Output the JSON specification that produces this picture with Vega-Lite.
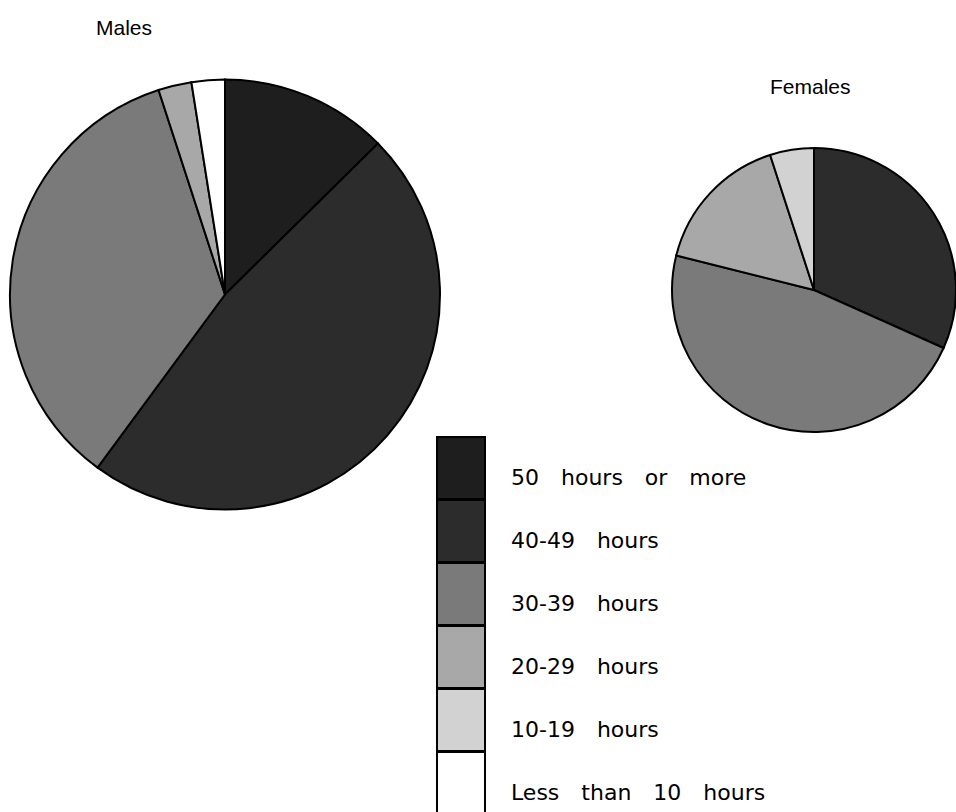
{
  "$schema": "https://vega.github.io/schema/vega-lite/v6.json",
  "padding": 0,
  "background": "white",
  "bounds": "flush",
  "spacing": 222,
  "data": {
    "values": [
      {"sex": "Males", "hours": "50 hours or more", "rank": 1, "percent": 12.6},
      {"sex": "Males", "hours": "40-49 hours", "rank": 2, "percent": 47.5},
      {"sex": "Males", "hours": "30-39 hours", "rank": 3, "percent": 34.9},
      {"sex": "Males", "hours": "20-29 hours", "rank": 4, "percent": 2.5},
      {"sex": "Males", "hours": "Less than 10 hours", "rank": 6, "percent": 2.5},
      {"sex": "Females", "hours": "40-49 hours", "rank": 2, "percent": 31.7},
      {"sex": "Females", "hours": "30-39 hours", "rank": 3, "percent": 47.2},
      {"sex": "Females", "hours": "20-29 hours", "rank": 4, "percent": 16.1},
      {"sex": "Females", "hours": "10-19 hours", "rank": 5, "percent": 5.0}
    ]
  },
  "hconcat": [
    {
      "width": 450,
      "height": 589,
      "title": {"text": "Males", "anchor": "start", "frame": "group", "dx": 96, "offset": -56, "baseline": "alphabetic"},
      "transform": [{"filter": "datum.sex === 'Males'"}],
      "mark": {"type": "arc", "outerRadius": 215, "stroke": "black", "strokeWidth": 2},
      "encoding": {
        "theta": {"field": "percent", "type": "quantitative", "stack": true},
        "order": {"field": "rank", "type": "quantitative"},
        "color": {
          "field": "hours", "type": "nominal",
          "scale": {
            "domain": ["50 hours or more", "40-49 hours", "30-39 hours", "20-29 hours", "10-19 hours", "Less than 10 hours"],
            "range": ["#1e1e1e", "#2c2c2c", "#7a7a7a", "#a8a8a8", "#d2d2d2", "#ffffff"]
          },
          "legend": {"labelExpr": "join(split(datum.label, ' '), '\u2003')"}
        }
      }
    },
    {
      "width": 284,
      "height": 580,
      "title": {"text": "Females", "anchor": "start", "frame": "group", "dx": 98, "offset": -115, "baseline": "alphabetic"},
      "transform": [{"filter": "datum.sex === 'Females'"}],
      "mark": {"type": "arc", "outerRadius": 142, "stroke": "black", "strokeWidth": 2},
      "encoding": {
        "theta": {"field": "percent", "type": "quantitative", "stack": true},
        "order": {"field": "rank", "type": "quantitative"},
        "color": {
          "field": "hours", "type": "nominal",
          "scale": {
            "domain": ["50 hours or more", "40-49 hours", "30-39 hours", "20-29 hours", "10-19 hours", "Less than 10 hours"],
            "range": ["#1e1e1e", "#2c2c2c", "#7a7a7a", "#a8a8a8", "#d2d2d2", "#ffffff"]
          },
          "legend": {"labelExpr": "join(split(datum.label, ' '), '\u2003')"}
        }
      }
    }
  ],
  "resolve": {"scale": {"color": "shared", "theta": "independent"}},
  "config": {
    "view": {"stroke": null},
    "title": {"font": "Liberation Sans", "fontSize": 21, "fontWeight": "normal", "color": "black"},
    "legend": {
      "orient": "none",
      "legendX": 433,
      "legendY": 440,
      "title": null,
      "symbolType": "M-0.889,-1.148H0.889V1.148H-0.889Z",
      "symbolSize": 2916,
      "symbolStrokeColor": "black",
      "symbolStrokeWidth": 2,
      "symbolOpacity": 1,
      "rowPadding": -8,
      "labelFont": "DejaVu Sans",
      "labelFontSize": 22,
      "labelColor": "black",
      "labelOffset": 22,
      "labelBaseline": "top",
      "labelLimit": 0
    }
  },
  "encoding": {}
}
